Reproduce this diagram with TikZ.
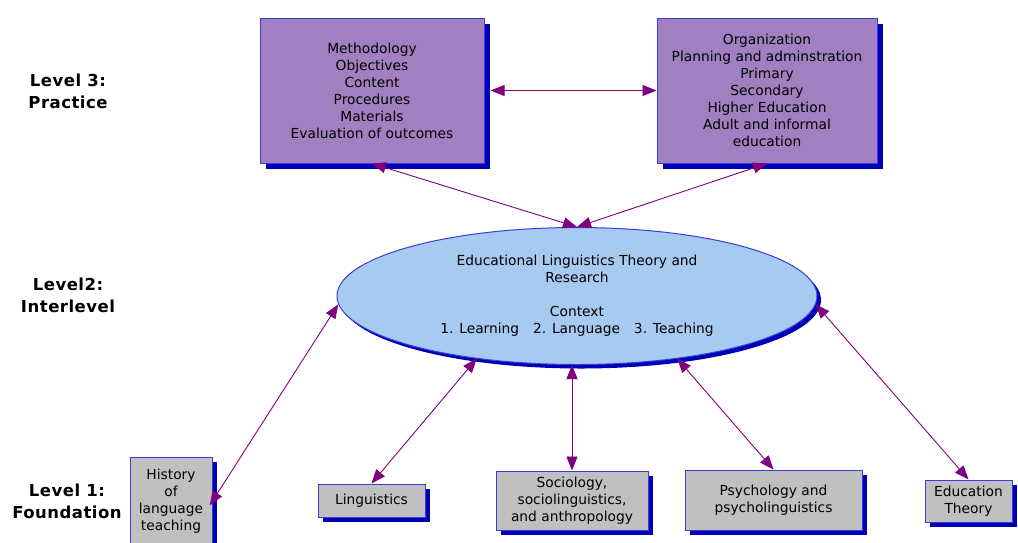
\documentclass[tikz,border=0pt]{standalone}
\usepackage{fontspec}
\usepackage{xcolor}
\usetikzlibrary{shapes.geometric,shadows,arrows.meta}
\setmainfont{DejaVu Sans}
\newfontfamily\levelfont[LetterSpace=3]{DejaVu Sans}

\definecolor{practice}{RGB}{160,128,192}
\definecolor{interfill}{RGB}{166,202,240}
\definecolor{foundfill}{RGB}{192,192,192}
\definecolor{edgeblue}{RGB}{60,60,220}
\definecolor{shadowblue}{RGB}{0,0,180}
\definecolor{linkpurple}{RGB}{128,0,128}

\begin{document}
\begin{tikzpicture}[x=1pt,y=-1pt,
    >={Triangle[length=14pt,width=11pt]},
    boxtext/.style={font=\fontsize{13.8}{17}\selectfont,align=center,inner sep=2pt},
    levellabel/.style={font=\levelfont\fontsize{16.5}{22}\selectfont\bfseries,align=center},
    practicebox/.style={boxtext,rectangle,draw=edgeblue,line width=1pt,fill=practice,
        drop shadow={shadow xshift=6pt,shadow yshift=-6pt,fill=shadowblue,opacity=1}},
    interell/.style={boxtext,ellipse,draw=edgeblue,line width=1pt,fill=interfill,
        drop shadow={shadow xshift=4pt,shadow yshift=-4pt,fill=shadowblue,opacity=1}},
    foundbox/.style={boxtext,rectangle,draw=edgeblue,line width=1pt,fill=foundfill,
        drop shadow={shadow xshift=5pt,shadow yshift=-5pt,fill=shadowblue,opacity=1}},
    link/.style={draw=linkpurple,line width=0.9pt,<->}]
    \useasboundingbox (0,0) rectangle (1018,542);

    \node[levellabel] (lvlthree) at (68,91) {Level 3:\\Practice};
    \node[levellabel] (lvltwo) at (68,295) {Level2:\\Interlevel};
    \node[levellabel] (lvlone) at (67,501) {Level 1:\\Foundation};

    \node[practicebox,minimum width=224pt,minimum height=145pt] (method) at (372,90.5)
        {Methodology\\Objectives\\Content\\Procedures\\Materials\\Evaluation of outcomes};
    \node[practicebox,minimum width=220pt,minimum height=145pt] (organ) at (767,90.5)
        {Organization\\Planning and adminstration\\Primary\\Secondary\\Higher Education\\Adult and informal\\education};

    \node[interell,minimum width=480pt,minimum height=137pt] (elt) at (577,296)
        {Educational Linguistics Theory and\\Research\\[17pt]Context\\1. Learning\quad 2. Language\quad 3. Teaching};

    \node[foundbox,minimum width=82pt,minimum height=88pt] (history) at (171,501)
        {History\\of\\language\\teaching};
    \node[foundbox,minimum width=107pt,minimum height=33pt] (ling) at (371.5,500.5) {Linguistics};
    \node[foundbox,minimum width=152pt,minimum height=59pt] (socio) at (572,500.5)
        {Sociology,\\sociolinguistics,\\and anthropology};
    \node[foundbox,minimum width=177pt,minimum height=60pt] (psych) at (773.5,500)
        {Psychology and\\psycholinguistics};
    \node[foundbox,minimum width=87pt,minimum height=42pt] (edu) at (968.5,501)
        {Education\\Theory};

    \draw[link,shorten <=6pt] (method.east) -- (organ.west);
    \draw[link] (method.south) -- (elt.north);
    \draw[link] (organ.south) -- (elt.north);
    \draw[link,shorten >=-5pt] (elt.182) -- (history.east);
    \draw[link] (elt.212) -- (ling.north);
    \draw[link] (elt.south -| socio.north) -- (socio.north);
    \draw[link] (elt.328) -- (psych.north);
    \draw[link] (elt.358) -- (edu.north);
\end{tikzpicture}
\end{document}
